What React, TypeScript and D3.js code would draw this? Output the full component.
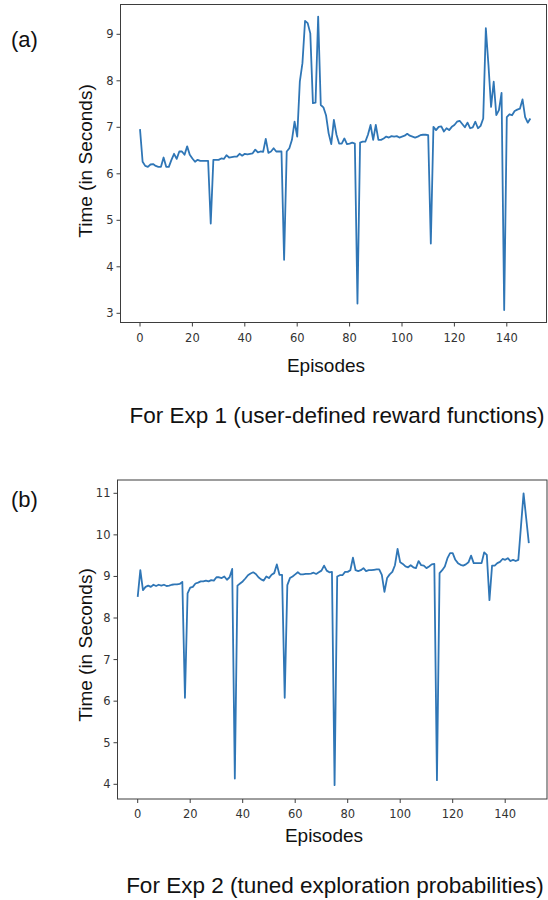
import React from "react";
import * as d3 from "d3";

const episodes = d3.range(150);

const exp1Times = [
  6.96, 6.26, 6.17, 6.15, 6.2, 6.21, 6.17, 6.15, 6.15, 6.35,
  6.15, 6.15, 6.3, 6.43, 6.32, 6.48, 6.48, 6.41, 6.59, 6.41,
  6.33, 6.26, 6.3, 6.28, 6.28, 6.28, 6.28, 4.93, 6.3, 6.3,
  6.3, 6.33, 6.32, 6.4, 6.35, 6.36, 6.37, 6.37, 6.43, 6.39,
  6.43, 6.42, 6.43, 6.44, 6.52, 6.46, 6.48, 6.47, 6.75, 6.45,
  6.48, 6.55, 6.48, 6.48, 6.48, 4.15, 6.48, 6.55, 6.73, 7.12,
  6.8, 7.98, 8.38, 9.29, 9.24, 9.02, 7.52, 7.53, 9.38, 7.48,
  7.43, 7.26, 6.87, 6.64, 7.16, 6.84, 6.65, 6.65, 6.76, 6.64,
  6.65, 6.67, 6.65, 3.21, 6.67, 6.69, 6.69, 6.84, 7.05, 6.73,
  7.05, 6.73, 6.73, 6.76, 6.8, 6.78, 6.81, 6.8, 6.81, 6.78,
  6.8, 6.82, 6.86, 6.82, 6.8, 6.78, 6.8, 6.83, 6.84, 6.84,
  6.83, 4.5, 7.01, 6.94, 7.01, 7.02, 6.91, 6.98, 6.94, 7.01,
  7.05, 7.12, 7.14, 7.07, 7.0, 7.1, 6.98, 7.0, 7.12, 6.98,
  7.03, 7.19, 9.13, 8.34, 7.44, 7.98, 7.26, 7.37, 7.74, 3.07,
  7.22, 7.28, 7.26, 7.35, 7.38, 7.4, 7.6, 7.22, 7.1, 7.19,
];

const exp2Times = [
  8.51, 9.15, 8.67, 8.75, 8.78, 8.75, 8.8, 8.77, 8.8, 8.78,
  8.8, 8.77, 8.78, 8.8, 8.81, 8.81, 8.82, 8.87, 6.08, 8.59,
  8.73, 8.75, 8.83, 8.85, 8.88, 8.88, 8.9, 8.88, 8.91, 8.9,
  8.98, 8.98, 8.96, 9.0, 8.92, 8.98, 9.18, 4.14, 8.78, 8.83,
  8.88, 8.95, 9.03, 9.07, 9.1, 9.06, 8.98, 8.93, 8.9, 9.0,
  8.96, 9.04, 9.08, 9.29, 9.04, 9.04, 6.08, 8.79, 8.96, 9.0,
  9.05, 9.1, 9.05, 9.05, 9.06, 9.06, 9.07, 9.09, 9.06, 9.1,
  9.14, 9.26, 9.14, 9.1, 9.11, 3.98, 9.0, 9.03, 9.03, 9.11,
  9.11, 9.15, 9.45, 9.15, 9.13, 9.15, 9.2, 9.13, 9.15, 9.15,
  9.16, 9.17, 9.17, 9.04, 8.63, 8.96, 9.05, 9.11, 9.27, 9.66,
  9.34, 9.3, 9.24, 9.22, 9.27, 9.22, 9.2, 9.37, 9.27, 9.26,
  9.2, 9.24, 9.29, 9.3, 4.1, 9.08, 9.15, 9.24, 9.44, 9.56,
  9.56, 9.4, 9.32, 9.28, 9.26, 9.29, 9.34, 9.5, 9.32, 9.32,
  9.32, 9.32, 9.58, 9.52, 8.43, 9.26, 9.26, 9.32, 9.35, 9.42,
  9.4, 9.44, 9.37, 9.4, 9.37, 9.4, 10.2, 11.0, 10.4, 9.8,
];

const xTicks = [0, 20, 40, 60, 80, 100, 120, 140];
const yTicksA = [3, 4, 5, 6, 7, 8, 9];
const yTicksB = [4, 5, 6, 7, 8, 9, 10, 11];

const panelLabels = ["(a)", "(b)"];
const captions = [
  "For Exp 1 (user-defined reward functions)",
  "For Exp 2 (tuned exploration probabilities)",
];
const xLabel = "Episodes";
const yLabel = "Time (in Seconds)";

const LINE = "#2f76b6";
const SPINE = "#3d3d3d";
const TICKTXT = "#333";
const LABEL_FONT = "'Liberation Sans', Arial, sans-serif";
const TICK_FONT = "'DejaVu Sans', sans-serif";

type PanelCfg = {
  values: number[];
  yTicks: number[];
  frame: { l: number; r: number; t: number; b: number };
  xRange: [number, number];
  yDomain: [number, number];
  yRange: [number, number];
  label: string;
  labelY: number;
  caption: string;
  captionX: number;
  captionY: number;
  ylabX: number;
  ylabY: number;
  xlabX: number;
  xlabY: number;
};

function Panel({ cfg, id }: { cfg: PanelCfg; id: string }) {
  const { frame } = cfg;
  const x = d3.scaleLinear().domain([0, 140]).range(cfg.xRange);
  const y = d3.scaleLinear().domain(cfg.yDomain).range(cfg.yRange);
  const line = d3
    .line<number>()
    .x((_, i) => x(episodes[i]))
    .y((d) => y(d));
  return (
    <g>
      <defs>
        <clipPath id={id}>
          <rect x={frame.l} y={frame.t} width={frame.r - frame.l} height={frame.b - frame.t} />
        </clipPath>
      </defs>
      <path
        d={line(cfg.values) || ""}
        fill="none"
        stroke={LINE}
        strokeWidth={1.8}
        strokeLinejoin="round"
        clipPath={`url(#${id})`}
      />
      <rect
        x={frame.l}
        y={frame.t}
        width={frame.r - frame.l}
        height={frame.b - frame.t}
        fill="none"
        stroke={SPINE}
        strokeWidth={1}
      />
      {cfg.yTicks.map((t) => (
        <g key={"y" + t}>
          <line x1={frame.l - 4} x2={frame.l} y1={y(t)} y2={y(t)} stroke={SPINE} strokeWidth={1} />
          <text
            x={frame.l - 7}
            y={y(t)}
            dy="0.35em"
            textAnchor="end"
            fontFamily={TICK_FONT}
            fontSize={11.5}
            fill={TICKTXT}
          >
            {t}
          </text>
        </g>
      ))}
      {xTicks.map((t) => (
        <g key={"x" + t}>
          <line x1={x(t)} x2={x(t)} y1={frame.b} y2={frame.b + 4} stroke={SPINE} strokeWidth={1} />
          <text
            x={x(t)}
            y={frame.b + 19}
            textAnchor="middle"
            fontFamily={TICK_FONT}
            fontSize={11.5}
            fill={TICKTXT}
          >
            {t}
          </text>
        </g>
      ))}
      <text
        x={cfg.xlabX}
        y={cfg.xlabY}
        textAnchor="middle"
        fontFamily={LABEL_FONT}
        fontSize={19}
        fill="#111"
      >
        {xLabel}
      </text>
      <text
        transform={`translate(${cfg.ylabX},${cfg.ylabY}) rotate(-90)`}
        textAnchor="middle"
        fontFamily={LABEL_FONT}
        fontSize={19}
        fill="#111"
      >
        {yLabel}
      </text>
      <text x={11} y={cfg.labelY} fontFamily={LABEL_FONT} fontSize={22} fill="#111">
        {cfg.label}
      </text>
      <text
        x={cfg.captionX}
        y={cfg.captionY}
        textAnchor="middle"
        fontFamily={LABEL_FONT}
        fontSize={22.5}
        fill="#111"
      >
        {cfg.caption}
      </text>
    </g>
  );
}

export default function App() {
  const top: PanelCfg = {
    values: exp1Times,
    yTicks: yTicksA,
    frame: { l: 120.5, r: 546.5, t: 4.5, b: 322.5 },
    xRange: [140, 506.8],
    yDomain: [3, 9],
    yRange: [313.3, 34.3],
    label: panelLabels[0],
    labelY: 47,
    caption: captions[0],
    captionX: 337,
    captionY: 423,
    ylabX: 92,
    ylabY: 161,
    xlabX: 326,
    xlabY: 372,
  };
  const bottom: PanelCfg = {
    values: exp2Times,
    yTicks: yTicksB,
    frame: { l: 117.5, r: 547, t: 480, b: 799 },
    xRange: [137.7, 505.2],
    yDomain: [4, 11],
    yRange: [784.3, 493.3],
    label: panelLabels[1],
    labelY: 507,
    caption: captions[1],
    captionX: 335,
    captionY: 893,
    ylabX: 92,
    ylabY: 645,
    xlabX: 324,
    xlabY: 842,
  };
  return (
    <svg
      width={548}
      height={900}
      style={{ position: "absolute", left: 0, top: 0, background: "#fff" }}
    >
      <rect x={0} y={0} width={548} height={900} fill="#fff" />
      <Panel cfg={top} id="clipA" />
      <Panel cfg={bottom} id="clipB" />
    </svg>
  );
}
